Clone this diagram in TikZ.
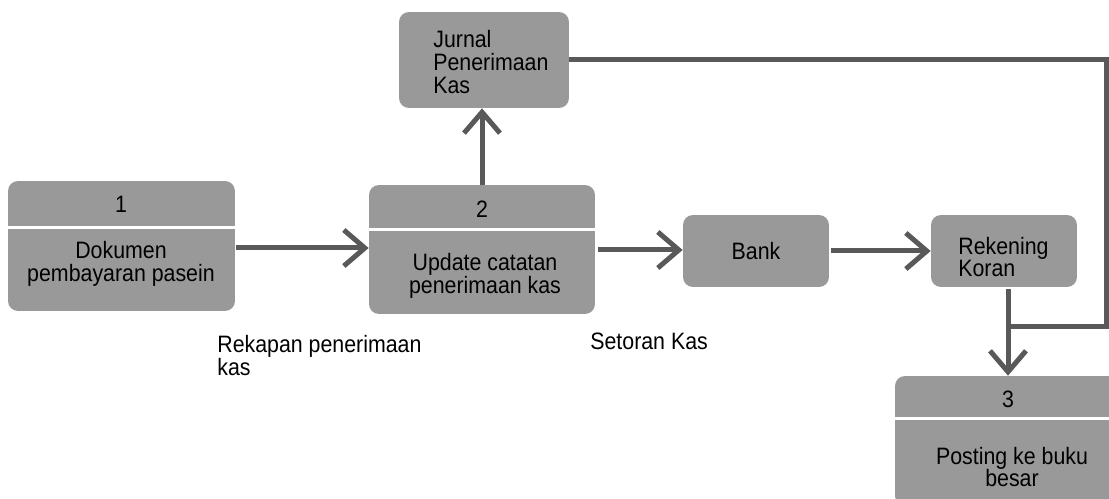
\documentclass[tikz,border=0pt]{standalone}
\usepackage{fontspec}
\setmainfont{Liberation Sans}[FakeStretch=0.9]
\usetikzlibrary{arrows.meta}
\definecolor{boxgray}{HTML}{999999}
\definecolor{linegray}{HTML}{595959}

\begin{document}
\begin{tikzpicture}[x=0.02cm, y=-0.02cm,
  font=\fontsize{13.5}{13}\selectfont,
  box/.style={fill=boxgray, rounded corners=0.2cm, inner sep=0pt},
  txt/.style={inner sep=0pt, align=center},
  flow/.style={draw=linegray, line width=0.1cm, -{Straight Barb[length=0.42cm, width=0.72cm]}}]
  \useasboundingbox (0,0) rectangle (1109,499);
  \clip (0,0) rectangle (1109,499);

  % Boxes
  \node[box, minimum width=4.54cm, minimum height=2.6cm] (p1) at (121.5,246) {};
  \node[box, minimum width=4.52cm, minimum height=2.58cm] (p2) at (482,249.5) {};
  \node[box, minimum width=3.4cm, minimum height=1.92cm] (jur) at (484,60) {};
  \node[box, minimum width=2.92cm, minimum height=1.44cm] (bank) at (756,251) {};
  \node[box, minimum width=2.92cm, minimum height=1.44cm] (rek) at (1004,251) {};
  \node[box, minimum width=4.68cm, minimum height=2.6cm] (p3) at (1012,441) {};

  % Dividers
  \draw[white, line width=0.06cm] (p1.west |- 0,228) -- (p1.east |- 0,228);
  \draw[white, line width=0.06cm] (p2.west |- 0,230) -- (p2.east |- 0,230);
  \draw[white, line width=0.06cm] (p3.west |- 0,419) -- (p3.east |- 0,419);

  % Texts
  \node[txt] (p1n) at (121,204) {1};
  \node[txt] (p1t) at (121,264) {Dokumen\\pembayaran pasein};
  \node[txt] (p2n) at (482,209) {2};
  \node[txt] (p2t) at (485,276) {Update catatan\\penerimaan kas};
  \node[txt, align=left, anchor=west] (jurt) at (433,62) {Jurnal\\Penerimaan\\Kas};
  \node[txt] (bankt) at (756,251) {Bank};
  \node[txt, align=left, anchor=west] (rekt) at (958,257) {Rekening\\Koran};
  \node[txt] (p3n) at (1008,399) {3};
  \node[txt] (p3t) at (1012,467) {Posting ke buku\\besar};

  % Labels
  \node[txt, align=left, anchor=north west] (rekap) at (217,335) {Rekapan penerimaan\\kas};
  \node[txt, align=left, anchor=north west] (setor) at (590,333) {Setoran Kas};

  % Flows
  \draw[flow] (p1.east) ++(1,2) -- (p2.west |- 0,248);
  \draw[flow] (p2.north) -- (p2.north |- jur.south);
  \draw[flow] (p2.east |- 0,250) ++(3,0) -- (bank.west |- 0,250);
  \draw[flow] (bank.east) ++(2,0) -- (rek.west);
  \draw[flow] (rek.south) ++(4,2) coordinate (down) -- (down |- p3.north);
  \coordinate (jr) at (1106,60);
  \coordinate (jb) at (1106,327);
  \draw[linegray, line width=0.1cm] (jur.east) -- (jr) -- (jb) -- (down |- jb);
\end{tikzpicture}
\end{document}
